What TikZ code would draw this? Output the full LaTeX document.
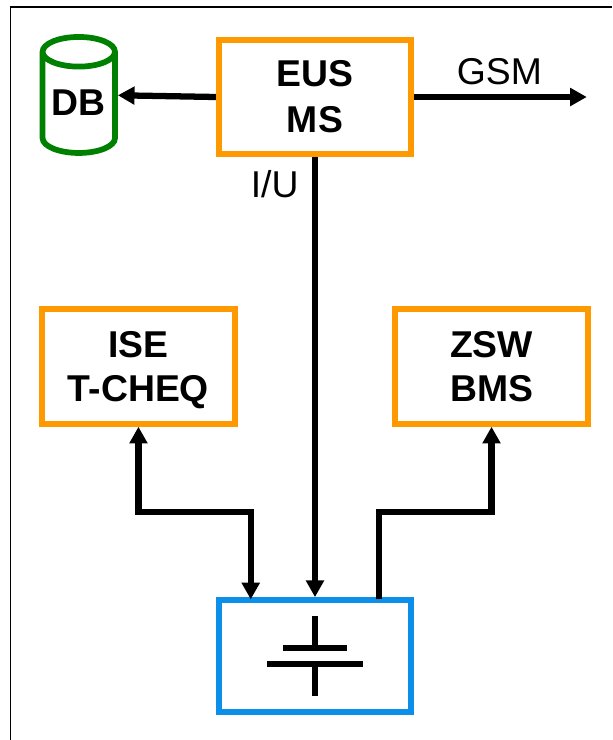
\documentclass[tikz,border=0pt]{standalone}
\usepackage{fontspec}
\setmainfont{Liberation Sans}
\usepackage{pgf,tikz}
\usetikzlibrary{arrows.meta,positioning,calc,shapes.geometric}
\definecolor{boxorange}{HTML}{FF9900}
\definecolor{boxgreen}{HTML}{008000}
\definecolor{boxblue}{HTML}{0B8FE8}
\tikzset{main base/.style={draw,line width=4.3pt,text centered,inner sep=0pt,align=center,font=\fontsize{28}{33}\selectfont\bfseries}, }
\tikzset{main node/.style={rectangle,main base,draw=boxorange,minimum width=144.4pt,minimum height=85.9pt}, }
\tikzset{main node2/.style={main node,draw=boxblue,minimum height=84pt}, }
\tikzset{main db/.style={cylinder,main base,draw=boxgreen,shape border rotate=90,aspect=.55,minimum width=54.3pt,minimum height=87pt}, }
\tikzset{main verb/.style={inner sep=0pt,font=\fontsize{28}{33}\selectfont}, }
\tikzset{linea/.style={-{Triangle[length=12.5pt,width=13pt]},line width=4.7pt,draw}}
\tikzset{linea2/.style={{Triangle[length=12.5pt,width=13pt]}-{Triangle[length=12.5pt,width=13pt]},line width=4.7pt,draw}}
\tikzset{linea3/.style={line width=4.7pt,draw}}
\tikzset{frame/.style={line width=1.4pt,draw=black}}
\begin{document}
\begin{tikzpicture}
\useasboundingbox (-236.25pt,72.75pt) rectangle +(459pt,-555pt);
\draw[frame] (-228.4pt,-482.25pt) |- (222.75pt,67.5pt);

\node[main node] (1) {EUS\\[1.5pt]MS};
\node[main db] (2) [left=73.5pt of 1,yshift=-5.1pt] {\raisebox{1.7pt}{DB}};
\node[main node] (3) [below left=112pt and -16.3pt of 1] {ISE\\T-CHE\smash{Q}};
\node[main node] (4) [below right=112pt and -16.3pt of 1] {ZSW\\BMS};
\node[main node2] (5) [below=330pt of 1] {};

\coordinate[right=129.5pt of 1] (6);
\coordinate[below left=1.7pt and 48.2pt of 5.north] (7);
\coordinate[below right=1.7pt and 48pt of 5.north] (8);
\coordinate[above=65.7pt of 7] (9);
\coordinate[above=65.7pt of 8] (10);
\coordinate[above=6pt of 5.center] (11);
\coordinate[below=6pt of 5.center] (12);
\coordinate[above=6.4pt of 2.east] (15);

\foreach \x /\y in{1.west/15,1.south/5.north}
  \draw[linea] (\x) -- (\y);
\draw[linea] (1.east) -- (6) node[main verb,midway,above=7pt,xshift=-.75pt] (13) {GSM};
\draw[linea2] (3.south) |- (9) -- (7);
\draw[linea] (8) -- (10) -| (4.south);
\node[main verb,anchor=north east] (14) at ($(1.south)+(-12.2pt,-10pt)$) {I/U};

% battery
\draw[linea3] ($(11)+(-24pt,0)$) -- ($(11)+(24pt,0)$);
\draw[linea3] ($(12)+(-36pt,0)$) -- ($(12)+(36pt,0)$);
\draw[linea3] (11) -- ++(0,24pt);
\draw[linea3] (12) -- ++(0,-24pt);
\end{tikzpicture}
\end{document}
